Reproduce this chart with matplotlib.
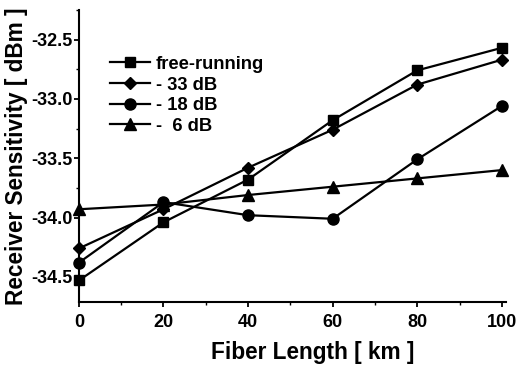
import matplotlib
matplotlib.use("Agg")
import matplotlib.pyplot as plt
from matplotlib.ticker import MultipleLocator

plt.rcParams['font.family'] = ['Liberation Sans', 'DejaVu Sans']
plt.rcParams['font.weight'] = 'bold'

fiber_km = [0, 20, 40, 60, 80, 100]
free_running = [-34.53, -34.04, -33.68, -33.18, -32.76, -32.57]
inj_33 = [-34.26, -33.93, -33.58, -33.26, -32.88, -32.67]
inj_18 = [-34.38, -33.87, -33.98, -34.01, -33.51, -33.06]
inj_6 = [-33.93, -33.89, -33.81, -33.74, -33.67, -33.60]

labels = ['free-running', '- 33 dB', '- 18 dB', '-  6 dB']
markers = ['s', 'D', 'o', '^']
sizes = [7, 6.5, 8, 8]

fig = plt.figure(figsize=(5.19, 3.65), dpi=100)
ax = fig.add_axes([0.152, 0.173, 0.823, 0.80])

for ys, lab, m, s in zip([free_running, inj_33, inj_18, inj_6], labels, markers, sizes):
    ax.plot(fiber_km, ys, color='black', lw=1.6, marker=m, ms=s, label=lab, clip_on=False)

ax.set_xlim(0, 101)
ax.set_ylim(-34.71, -32.25)
ax.xaxis.set_major_locator(MultipleLocator(20))
ax.xaxis.set_minor_locator(MultipleLocator(10))
ax.yaxis.set_major_locator(MultipleLocator(0.5))
ax.yaxis.set_minor_locator(MultipleLocator(0.25))
ax.yaxis.set_major_formatter(matplotlib.ticker.FormatStrFormatter('%.1f'))
for s in ['top', 'right']:
    ax.spines[s].set_visible(False)
for s in ['left', 'bottom']:
    ax.spines[s].set_linewidth(1.5)
ax.tick_params(which='major', direction='out', length=3.5, width=1.3, labelsize=13)
ax.tick_params(which='minor', direction='out', length=2.5, width=1.0)
ax.tick_params(axis='y', pad=1)
ax.tick_params(axis='x', pad=5)
for t in ax.get_xticklabels() + ax.get_yticklabels():
    t.set_fontweight('bold')

ax.set_xlabel('Fiber Length [ km ]', fontsize=16.3, fontweight='bold', labelpad=6)
ax.xaxis.set_label_coords(0.548, -0.135)
ax.set_ylabel('Receiver Sensitivity [ dBm ]', fontsize=16.3, fontweight='bold', labelpad=2)

leg = ax.legend(loc='upper left', bbox_to_anchor=(0.212, 0.847), bbox_transform=fig.transFigure,
                frameon=False, prop={'size': 13.2, 'weight': 'bold'}, handlelength=2.2,
                handletextpad=0.3, labelspacing=0.2, borderaxespad=0, borderpad=0)

fig.savefig('out.png', dpi=100)
